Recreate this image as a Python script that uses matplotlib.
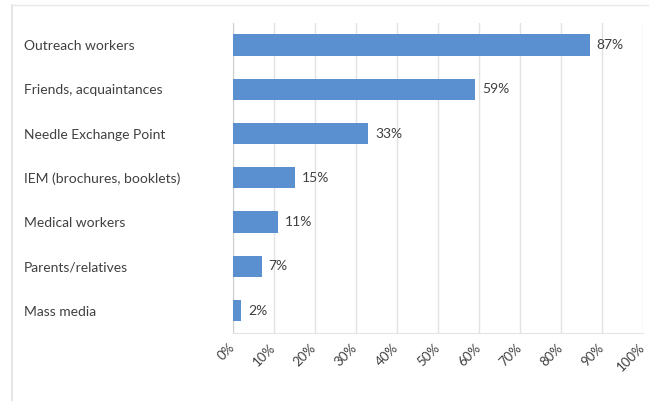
import matplotlib
matplotlib.use("Agg")
import matplotlib.pyplot as plt
import matplotlib.transforms as mtransforms
from matplotlib.lines import Line2D

categories = [
    "Outreach workers",
    "Friends, acquaintances",
    "Needle Exchange Point",
    "IEM (brochures, booklets)",
    "Medical workers",
    "Parents/relatives",
    "Mass media",
]
values = [87, 59, 33, 15, 11, 7, 2]
x_ticks = list(range(0, 101, 10))
x_tick_labels = [f"{t}%" for t in x_ticks]

plt.rcParams["font.family"] = ["Lato", "DejaVu Sans"]
text_color = "#404040"
bar_color = "#5a8fd0"
grid_color = "#e2e2e2"

fig = plt.figure(figsize=(6.49, 4.01), dpi=100)
ax = fig.add_axes([0.359, 0.170, 0.632, 0.773])

y_pos = list(range(len(categories)))
ax.barh(y_pos, values, height=0.48, color=bar_color, zorder=3)
for y, v in zip(y_pos, values):
    ax.annotate(f"{v}%", xy=(v, y), xytext=(5, 0), textcoords="offset points",
                va="center", ha="left", fontsize=10, color=text_color)

ax.set_xlim(0, 100)
ax.set_ylim(len(categories) - 0.5, -0.5)
ax.set_yticks(y_pos)
ax.set_yticklabels(categories, fontsize=10, color=text_color)
ax.set_xticks(x_ticks)
ax.set_xticklabels(x_tick_labels, fontsize=9.5, color=text_color,
                   rotation=45, ha="right", va="top", rotation_mode="anchor")
ax.tick_params(axis="both", length=0)
ax.tick_params(axis="y", pad=0)
# left-align category labels at a fixed margin
label_x = -(233 - 24) / (0.632 * 649)
for lab in ax.get_yticklabels():
    lab.set_horizontalalignment("left")
    lab.set_x(label_x)
ax.tick_params(axis="x", pad=6)
shift = mtransforms.ScaledTranslation(-5 / 100, 0, fig.dpi_scale_trans)
for lab in ax.get_xticklabels():
    lab.set_transform(lab.get_transform() + shift)

ax.grid(axis="x", color=grid_color, linewidth=1, zorder=0)
for side in ["top", "right"]:
    ax.spines[side].set_visible(False)
ax.spines["left"].set_color("#cfcfcf")
ax.spines["bottom"].set_color("#e4e4e4")

# chart frame lines (left and top)
fig.add_artist(Line2D([12 / 649, 12 / 649], [0, 1 - 5 / 401],
                      transform=fig.transFigure, color="#e0e0e0", linewidth=1.2))
fig.add_artist(Line2D([12 / 649, 1], [1 - 5 / 401, 1 - 5 / 401],
                      transform=fig.transFigure, color="#e8e8e8", linewidth=1.0))

fig.savefig("out.png", dpi=100)
